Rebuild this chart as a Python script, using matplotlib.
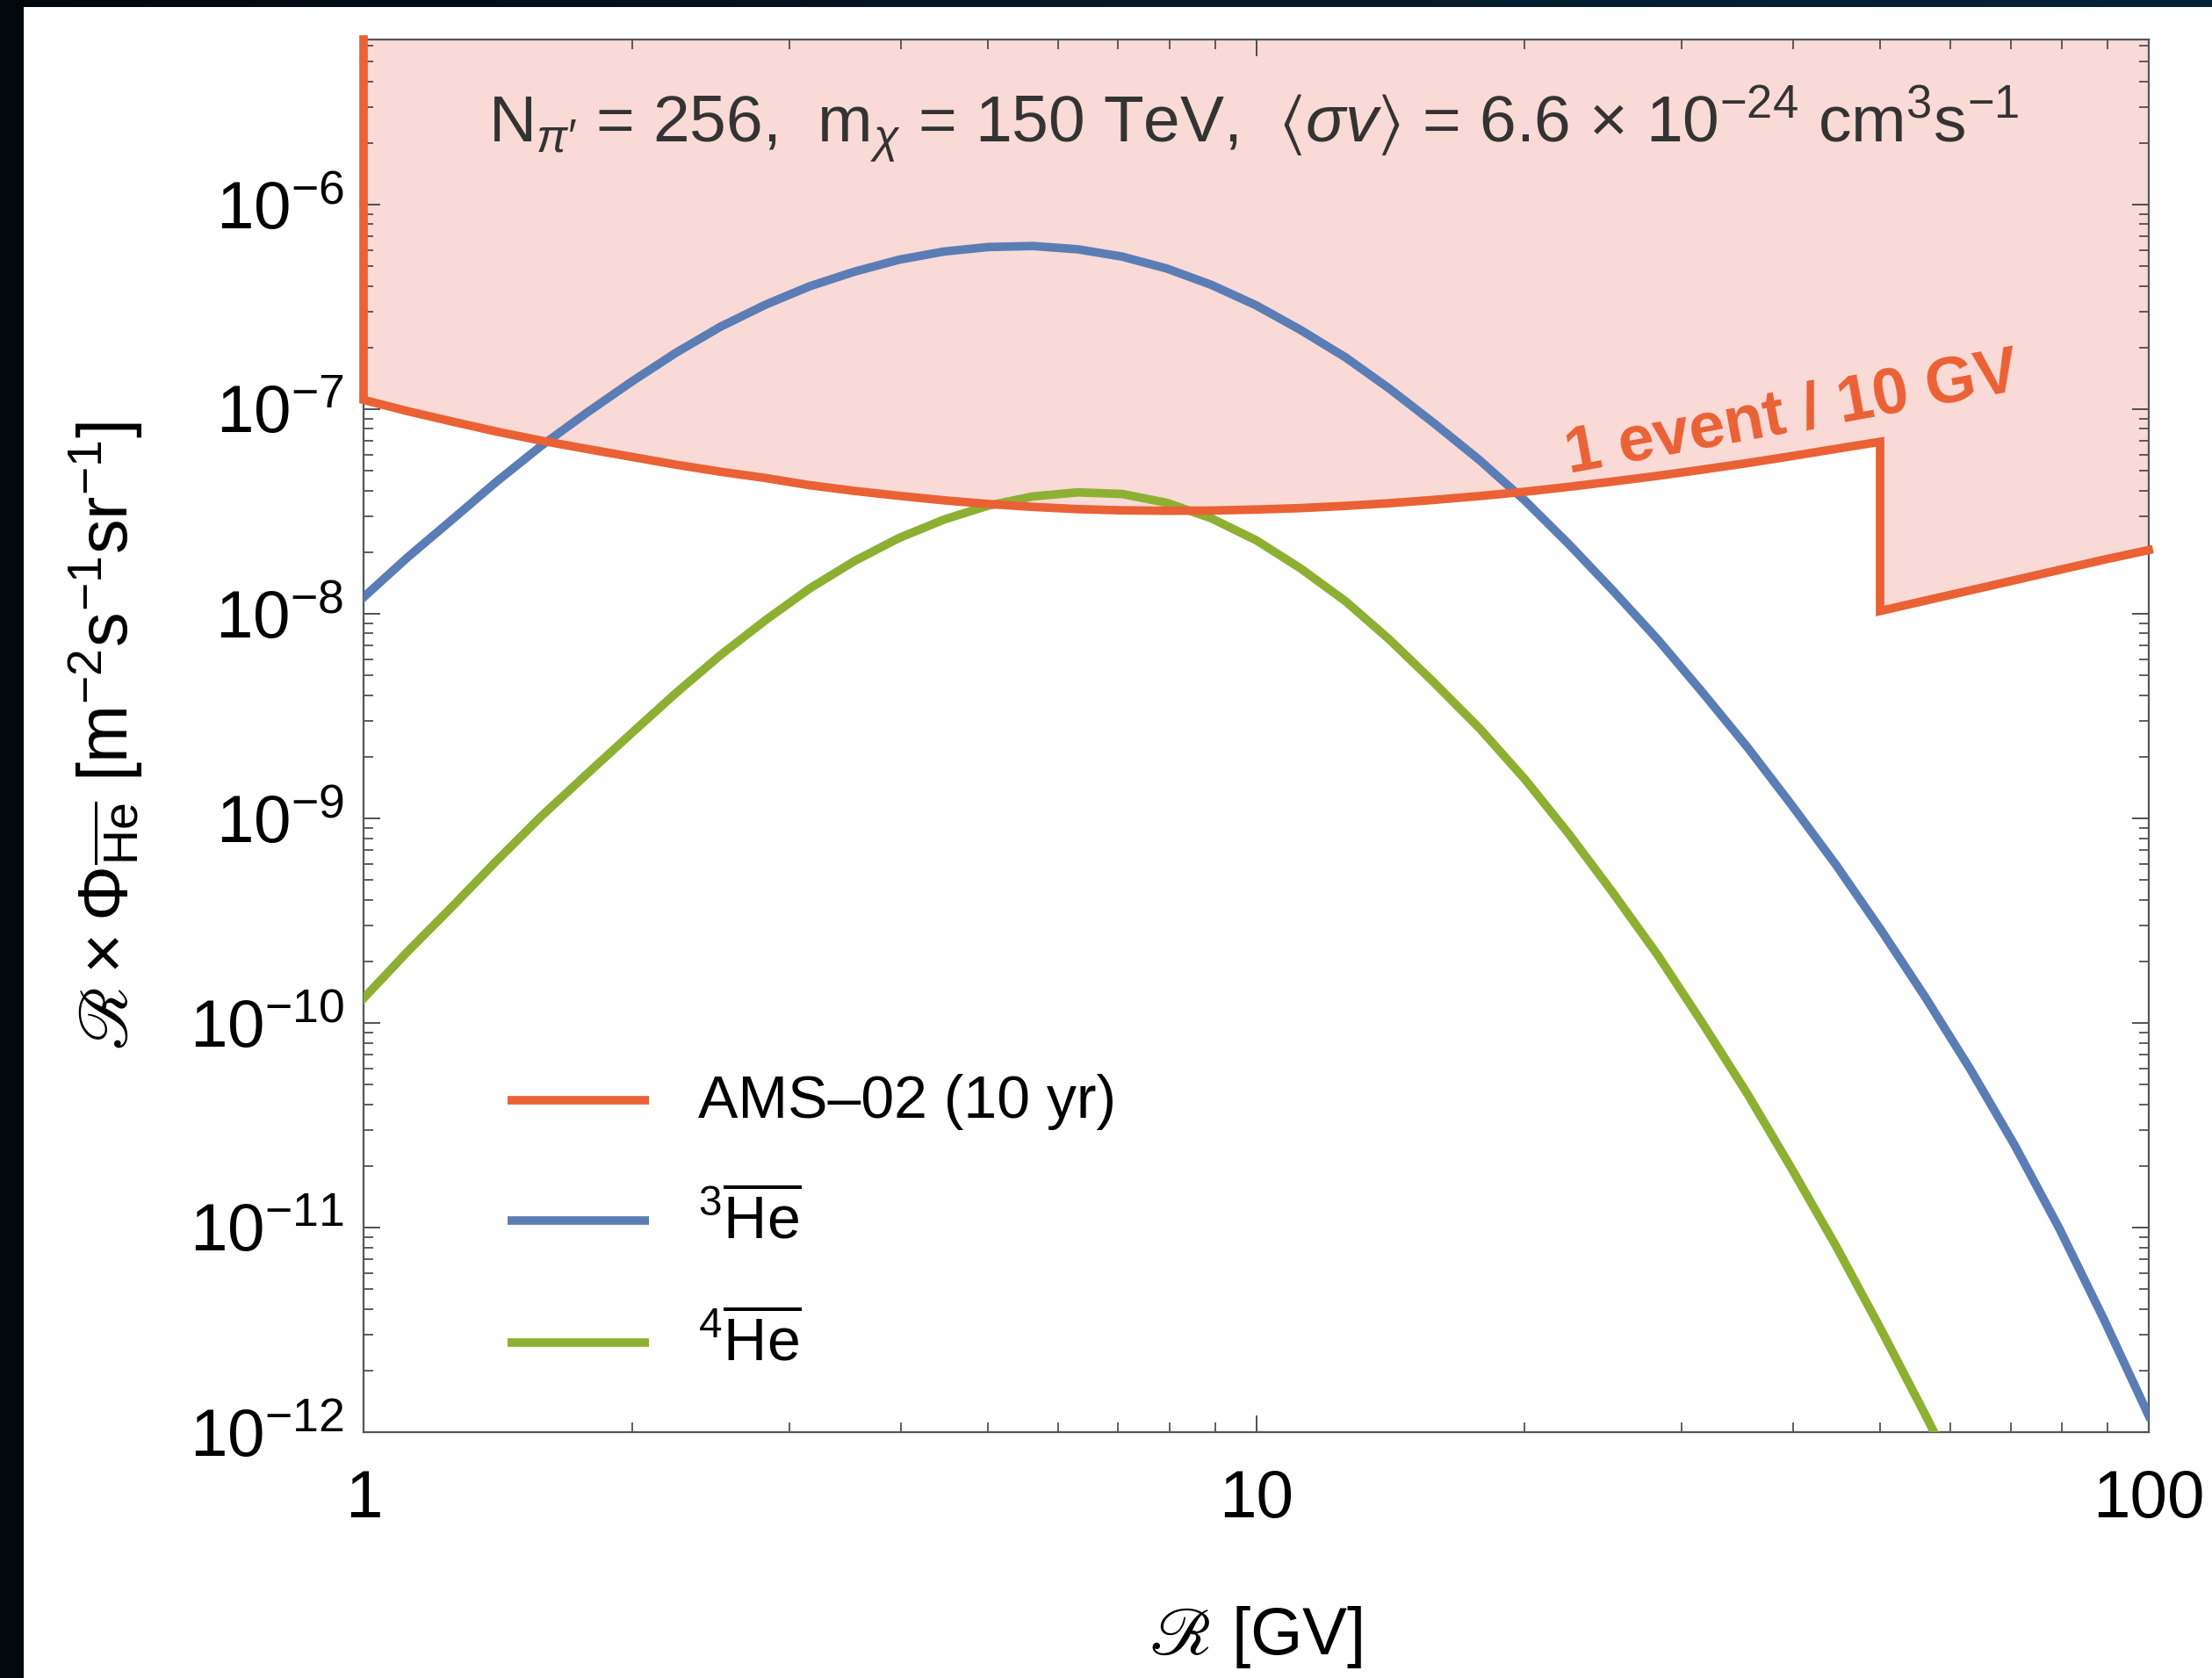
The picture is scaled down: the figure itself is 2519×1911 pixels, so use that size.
import numpy as np
import matplotlib
matplotlib.use("Agg")
import matplotlib.pyplot as plt
from matplotlib.lines import Line2D
from matplotlib.ticker import LogLocator, NullFormatter
from matplotlib.colors import LinearSegmentedColormap

plt.rcParams['font.family'] = ['Liberation Sans', 'DejaVu Sans']
plt.rcParams['mathtext.fontset'] = 'custom'
plt.rcParams['mathtext.rm'] = 'Liberation Sans'
plt.rcParams['mathtext.it'] = 'Liberation Sans:italic'
plt.rcParams['mathtext.bf'] = 'Liberation Sans:bold'
plt.rcParams['mathtext.sf'] = 'Liberation Sans'
plt.rcParams['mathtext.fallback'] = 'stix'

# ---------------- data ----------------
# rigidity grid [GV]
rig_R = [1, 1.12, 1.26, 1.41, 1.58, 1.78, 2.0, 2.24, 2.51, 2.82, 3.16, 3.55, 3.98, 4.47,
         5.01, 5.62, 6.31, 7.08, 7.94, 8.91, 10, 11.2, 12.6, 14.1, 15.8, 17.8, 20.0, 22.4,
         25.1, 28.2, 31.6, 35.5, 39.8, 44.7, 50.1, 56.2, 63.1, 70.8, 79.4, 89.1, 100]

# AMS-02 (10 yr) sensitivity, "1 event / 10 GV" (step at 50 GV)
ams_R = [1, 1.12, 1.26, 1.41, 1.58, 1.78, 2.0, 2.24, 2.51, 2.82, 3.16, 3.55, 3.98, 4.47,
         5.01, 5.62, 6.31, 7.08, 7.94, 8.91, 10, 11.2, 12.6, 14.1, 15.8, 17.8, 20.0, 22.4,
         25.1, 28.2, 31.6, 35.5, 39.8, 44.7, 50,
         50, 56.2, 63.1, 70.8, 79.4, 89.1, 100]
ams_logy = [-6.955, -7.010, -7.062, -7.110, -7.154, -7.195, -7.234, -7.272, -7.306, -7.337,
            -7.372, -7.400, -7.424, -7.446, -7.464, -7.478, -7.489, -7.495, -7.497, -7.496,
            -7.491, -7.484, -7.473, -7.460, -7.444, -7.425, -7.404, -7.380, -7.354, -7.326,
            -7.296, -7.264, -7.230, -7.194, -7.160,
            -7.987, -7.936, -7.886, -7.836, -7.786, -7.736, -7.689]

# 3He-bar flux (log10), on rig_R
he3_logy = [-7.920, -7.725, -7.536, -7.354, -7.181, -7.017, -6.864, -6.724, -6.598, -6.490,
            -6.400, -6.328, -6.270, -6.230, -6.208, -6.203, -6.219, -6.255, -6.313, -6.393,
            -6.493, -6.612, -6.748, -6.900, -7.067, -7.250, -7.447, -7.660, -7.887, -8.128,
            -8.383, -8.652, -8.935, -9.232, -9.545, -9.875, -10.226, -10.600, -11.005,
            -11.450, -11.920]

# 4He-bar flux (log10), on rig_R (last point falls below the frame)
he4_logy = [-9.880, -9.652, -9.427, -9.207, -8.992, -8.783, -8.581, -8.387, -8.203, -8.032,
            -7.877, -7.742, -7.630, -7.540, -7.472, -7.427, -7.407, -7.415, -7.458, -7.534,
            -7.641, -7.777, -7.940, -8.126, -8.334, -8.561, -8.809, -9.076, -9.364, -9.671,
            -9.999, -10.346, -10.712, -11.096, -11.497, -11.916, -12.352]

legend_labels = ['AMS–02 (10 yr)', r'${}^{3}\overline{\mathrm{He}}$', r'${}^{4}\overline{\mathrm{He}}$']
xtick_vals = [1, 10, 100]
xtick_labels = ['1', '10', '100']
ytick_vals = [1e-12, 1e-11, 1e-10, 1e-9, 1e-8, 1e-7, 1e-6]
ytick_labels = [r'$10^{-12}$', r'$10^{-11}$', r'$10^{-10}$', r'$10^{-9}$', r'$10^{-8}$',
                r'$10^{-7}$', r'$10^{-6}$']
xlim = (1, 100)
ylim = (1e-12, 6.4e-6)

title_text = (r'N$_{\pi\prime}$ = 256,  m$_{\chi}$ = 150 TeV,  '
              r'$\langle\sigma v\rangle$ = 6.6 × 10$^{-24}$ cm$^{3}$s$^{-1}$')
event_text = '1 event / 10 GV'

# ---------------- styling ----------------
c_orange = '#EA6135'
c_blue = '#5B7DB5'
c_green = '#8DB032'
c_fill = '#F9DAD6'
lw = 7.0

W, H = 2519, 1911
fig = plt.figure(figsize=(W / 100, H / 100), dpi=100)
fig.patch.set_facecolor('white')

# dark screenshot border (left & top)
ax_left = fig.add_axes([0, 0, 27 / W, 1])
ax_left.set_axis_off()
ax_left.add_patch(plt.Rectangle((0, 0), 1, 1, color='#02070b', transform=ax_left.transAxes))
ax_topb = fig.add_axes([0, 1 - 8 / H, 1, 8 / H])
ax_topb.set_axis_off()
grad = np.linspace(0, 1, 256)[None, :]
cm_top = LinearSegmentedColormap.from_list('b', ['#02070b', '#05192a', '#022338'])
ax_topb.imshow(grad, aspect='auto', cmap=cm_top, extent=(0, 1, 0, 1))

L, R_, T, B = 414, 2447, 45, 1631
ax = fig.add_axes([L / W, 1 - B / H, (R_ - L) / W, (B - T) / H])
ax.set_xscale('log')
ax.set_yscale('log')
ax.set_xlim(*xlim)
ax.set_ylim(*ylim)

ams_y = 10 ** np.array(ams_logy)
he3_y = 10 ** np.array(he3_logy)
he4_y = 10 ** np.array(he4_logy)

ax.fill_between(ams_R, ams_y, ylim[1], color=c_fill, lw=0, zorder=1)
ax.plot(np.concatenate([[ams_R[0]], ams_R]), np.concatenate([[ylim[1]], ams_y]),
        color=c_orange, lw=lw, zorder=4, solid_joinstyle='miter', clip_on=False)
ax.plot(rig_R, he3_y, color=c_blue, lw=lw, zorder=3, solid_joinstyle='round')
ax.plot(rig_R[:len(he4_y)], he4_y, color=c_green, lw=lw, zorder=3, solid_joinstyle='round')

# ticks
ax.set_xticks(xtick_vals)
ax.set_xticklabels(xtick_labels)
ax.xaxis.set_minor_locator(LogLocator(base=10, subs=np.arange(2, 10), numticks=50))
ax.xaxis.set_minor_formatter(NullFormatter())
ax.set_yticks(ytick_vals)
ax.set_yticklabels(ytick_labels)
ax.yaxis.set_minor_locator(LogLocator(base=10, subs=np.arange(2, 10), numticks=50))
ax.yaxis.set_minor_formatter(NullFormatter())
ax.tick_params(which='both', direction='in', top=True, right=True, color='#333333')
ax.tick_params(which='major', length=14, width=1.2)
ax.tick_params(which='minor', length=8, width=1.1)
ax.tick_params(axis='x', which='major', labelsize=55, pad=30)
ax.tick_params(axis='y', which='major', labelsize=55, pad=16)
for s in ax.spines.values():
    s.set_color('#555555')
    s.set_linewidth(1.6)

# axis labels
ax.text(-0.1446, 0.5, r'$ℛ\times\Phi_{\overline{\mathrm{He}}}\ [\mathrm{m}^{-2}\mathrm{s}^{-1}\mathrm{sr}^{-1}]$',
        transform=ax.transAxes, rotation=90, ha='center', va='center', fontsize=57)
ax.text(0.5, -0.147, r'$ℛ\ [\mathrm{GV}]$', transform=ax.transAxes,
        ha='center', va='center', fontsize=55)

# annotation texts
ax.text(0.4985, 0.9385, title_text, transform=ax.transAxes, ha='center', va='center',
        fontsize=54, color='#333333', zorder=6)
ax.text(0.80, 0.731, event_text, transform=ax.transAxes, ha='center', va='center',
        fontsize=53, fontweight='bold', color=c_orange, rotation=10.5,
        rotation_mode='anchor', zorder=6)

# manual legend
leg_colors = [c_orange, c_blue, c_green]
leg_y = [0.2383, 0.152, 0.0641]
for col, yy, lab in zip(leg_colors, leg_y, legend_labels):
    ax.add_line(Line2D([0.0807, 0.1599], [yy, yy], transform=ax.transAxes, color=col,
                       lw=lw, solid_capstyle='butt', zorder=5))
    ax.text(0.1874, yy - 0.0125, lab, transform=ax.transAxes, ha='left', va='baseline',
            fontsize=49, zorder=5)

fig.savefig('out.png', dpi=100)
